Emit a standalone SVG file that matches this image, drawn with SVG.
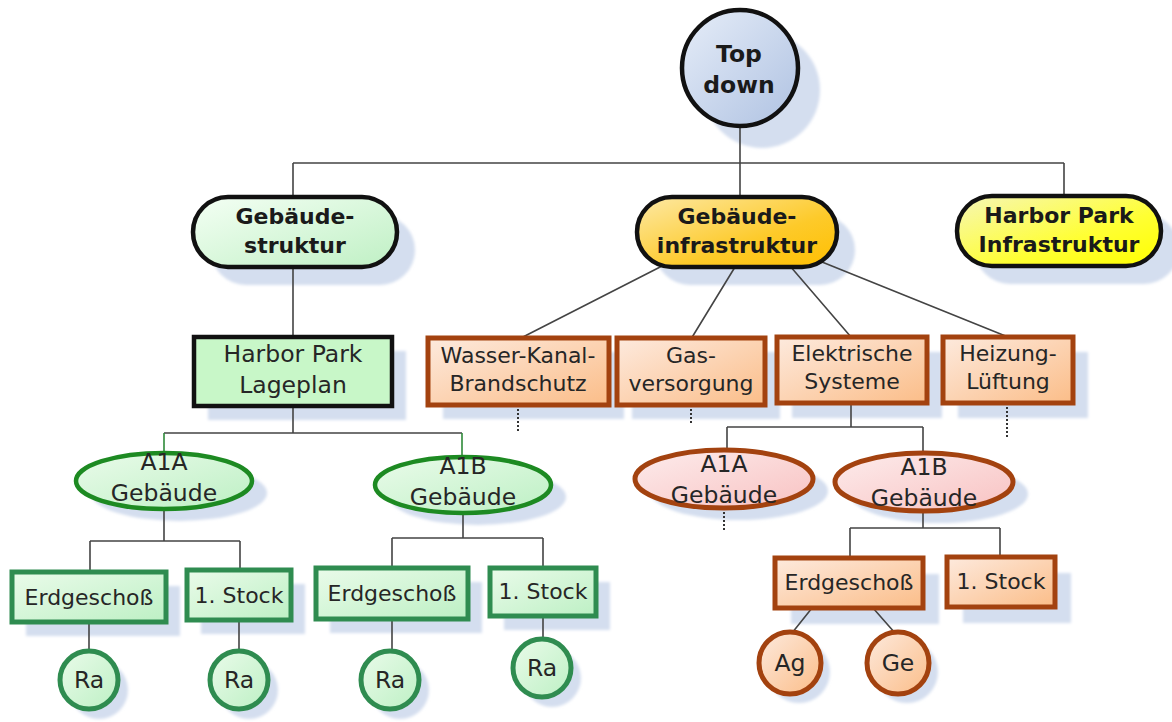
<svg xmlns="http://www.w3.org/2000/svg" width="1172" height="722" viewBox="0 0 1172 722">
<defs>
<linearGradient id="gBlue" x1="0" y1="0" x2="1" y2="1"><stop offset="0" stop-color="#e6edf8"/><stop offset="1" stop-color="#afc2e2"/></linearGradient>
<linearGradient id="gGreenTop" x1="0" y1="0" x2="1" y2="1"><stop offset="0" stop-color="#f4fff4"/><stop offset="1" stop-color="#bff0c4"/></linearGradient>
<linearGradient id="gOrangeTop" x1="0" y1="0" x2="1" y2="1"><stop offset="0" stop-color="#fde9a6"/><stop offset="0.6" stop-color="#fdca2a"/><stop offset="1" stop-color="#ffbf00"/></linearGradient>
<linearGradient id="gYellow" x1="0" y1="0" x2="1" y2="1"><stop offset="0" stop-color="#f6f6b8"/><stop offset="0.6" stop-color="#ffff33"/><stop offset="1" stop-color="#ffff00"/></linearGradient>
<linearGradient id="gOrange" x1="0" y1="0" x2="1" y2="1"><stop offset="0" stop-color="#fdeade"/><stop offset="1" stop-color="#fbbd88"/></linearGradient>
<linearGradient id="gGreen" x1="0" y1="0" x2="1" y2="1"><stop offset="0" stop-color="#eafbea"/><stop offset="1" stop-color="#bdf0c4"/></linearGradient>
<linearGradient id="gPink" x1="0" y1="0" x2="1" y2="1"><stop offset="0" stop-color="#fdecec"/><stop offset="1" stop-color="#f8c2c2"/></linearGradient>
<filter id="blur" x="-10%" y="-10%" width="120%" height="120%"><feGaussianBlur stdDeviation="1.6"/></filter>
</defs>
<style>
.sh{fill:#d4deef;filter:url(#blur)}
.ln{fill:none;stroke:#444;stroke-width:1.6}
.lg{fill:none;stroke:#2f8a3a;stroke-width:1.6}
.dot{fill:none;stroke:#333;stroke-width:2;stroke-dasharray:2,2}
.blk{stroke:#111;stroke-width:4.5}
.org{stroke:#a3420f;stroke-width:5}
.grn{stroke:#2f8c50;stroke-width:5}
.grel{stroke:#1d8a22;stroke-width:4.5}
text{font-family:"DejaVu Sans","Liberation Sans",sans-serif;text-anchor:middle;fill:#262626;font-size:22px}
.b{font-weight:bold;fill:#1a1a1a;font-size:22px}
.t{font-size:23.5px}
.e{font-size:23.5px}
</style>
<rect width="1172" height="722" fill="#fff"/>
<g id="shadows">
<circle class="sh" cx="762" cy="90" r="58"/>
<rect class="sh" x="211" y="215" width="204" height="70" rx="35"/>
<rect class="sh" x="655" y="215" width="200" height="70" rx="35"/>
<rect class="sh" x="975" y="214" width="204" height="70" rx="35"/>
<rect class="sh" x="208" y="351" width="198" height="69"/>
<rect class="sh" x="443" y="352" width="181" height="67"/>
<rect class="sh" x="632" y="352" width="148" height="67"/>
<rect class="sh" x="792" y="352" width="150" height="66"/>
<rect class="sh" x="958" y="352" width="130" height="66"/>
<ellipse class="sh" cx="179" cy="493" rx="88" ry="28"/>
<ellipse class="sh" cx="478" cy="497" rx="88" ry="28"/>
<ellipse class="sh" cx="739" cy="491" rx="89" ry="29"/>
<ellipse class="sh" cx="939" cy="494" rx="89" ry="29"/>
<rect class="sh" x="26" y="586" width="154" height="50"/>
<rect class="sh" x="201" y="584" width="104" height="50"/>
<rect class="sh" x="330" y="582" width="152" height="51"/>
<rect class="sh" x="504" y="582" width="106" height="48"/>
<rect class="sh" x="791" y="574" width="148" height="50"/>
<rect class="sh" x="963" y="573" width="108" height="50"/>
<circle class="sh" cx="99" cy="690" r="29"/>
<circle class="sh" cx="249" cy="690" r="29"/>
<circle class="sh" cx="400" cy="690" r="29"/>
<circle class="sh" cx="552" cy="678" r="29"/>
<circle class="sh" cx="799" cy="672" r="31"/>
<circle class="sh" cx="907" cy="672" r="31"/>
</g>
<g id="connectors">
<path class="ln" d="M740,126 V163 M293,163 H1064 M293,163 V197 M740,163 V197 M1064,163 V196"/>
<path class="ln" d="M293,267 V337 M293,406 V433 M164,433 H462"/>
<path class="lg" d="M164,433 V453 M462,433 V457"/>
<path class="ln" d="M164,509 V541 M90,541 H240 M90,541 V572 M240,541 V570"/>
<path class="ln" d="M463,514 V538 M392,538 H543 M392,538 V568 M543,538 V568"/>
<path class="ln" d="M89,622 V651 M239,620 V651 M392,619 V651 M543,616 V639"/>
<path class="ln" d="M666,264 L519,339 M735,267 L691,339 M790,266 L851,337 M822,262 L1008,337"/>
<path class="dot" d="M518,405 V432 M691,405 V425 M1007,403 V437 M724,508 V532"/>
<path class="ln" d="M851,403 V427 M727,427 H923 M727,427 V450 M923,427 V453"/>
<path class="ln" d="M923,512 V528 M850,528 H1000 M850,528 V558 M1000,528 V557"/>
<path class="ln" d="M812,608 L792,633 M873,608 L895,633"/>
</g>
<g id="node-top">
<circle cx="740" cy="68" r="58" fill="url(#gBlue)" class="blk"/>
<text class="b t" x="739" y="62">Top</text>
<text class="b t" x="739" y="93">down</text>
</g>
<g id="node-gebaeudestruktur">
<rect x="193" y="197" width="204" height="70" rx="35" fill="url(#gGreenTop)" class="blk"/>
<text class="b" x="295" y="224">Gebäude-</text>
<text class="b" x="295" y="253">struktur</text>
</g>
<g id="node-gebaeudeinfrastruktur">
<rect x="637" y="197" width="200" height="70" rx="35" fill="url(#gOrangeTop)" class="blk"/>
<text class="b" x="737" y="224">Gebäude-</text>
<text class="b" x="737" y="253">infrastruktur</text>
</g>
<g id="node-harborparkinfra">
<rect x="957" y="196" width="204" height="70" rx="35" fill="url(#gYellow)" class="blk"/>
<text class="b" x="1059" y="223">Harbor Park</text>
<text class="b" x="1059" y="252">Infrastruktur</text>
</g>
<g id="node-lageplan">
<rect x="194" y="337" width="198" height="69" fill="#c8f7c8" class="blk"/>
<text class="e" x="293" y="362">Harbor Park</text>
<text class="e" x="293" y="393">Lageplan</text>
</g>
<g id="node-wasser">
<rect x="428" y="338" width="181" height="67" fill="url(#gOrange)" class="org"/>
<text x="518" y="363">Wasser-Kanal-</text>
<text x="518" y="391">Brandschutz</text>
</g>
<g id="node-gas">
<rect x="617" y="338" width="148" height="67" fill="url(#gOrange)" class="org"/>
<text x="691" y="363">Gas-</text>
<text x="691" y="391">versorgung</text>
</g>
<g id="node-elektrische">
<rect x="777" y="337" width="150" height="66" fill="url(#gOrange)" class="org"/>
<text x="852" y="361">Elektrische</text>
<text x="852" y="389">Systeme</text>
</g>
<g id="node-heizung">
<rect x="943" y="337" width="130" height="66" fill="url(#gOrange)" class="org"/>
<text x="1008" y="361">Heizung-</text>
<text x="1008" y="389">Lüftung</text>
</g>
<g id="node-a1a-green">
<ellipse cx="164" cy="481" rx="88" ry="28" fill="url(#gGreen)" class="grel"/>
<text class="e" x="164" y="470">A1A</text>
<text class="e" x="164" y="501">Gebäude</text>
</g>
<g id="node-a1b-green">
<ellipse cx="463" cy="485" rx="88" ry="28" fill="url(#gGreen)" class="grel"/>
<text class="e" x="463" y="474">A1B</text>
<text class="e" x="463" y="505">Gebäude</text>
</g>
<g id="node-a1a-orange">
<ellipse cx="724" cy="479" rx="89" ry="29" fill="url(#gPink)" class="org"/>
<text class="e" x="724" y="472">A1A</text>
<text class="e" x="724" y="503">Gebäude</text>
</g>
<g id="node-a1b-orange">
<ellipse cx="924" cy="482" rx="89" ry="29" fill="url(#gPink)" class="org"/>
<text class="e" x="924" y="475">A1B</text>
<text class="e" x="924" y="506">Gebäude</text>
</g>
<g id="node-eg1">
<rect x="12" y="572" width="154" height="50" fill="url(#gGreen)" class="grn"/>
<text x="89" y="605">Erdgeschoß</text>
</g>
<g id="node-st1">
<rect x="187" y="570" width="104" height="50" fill="url(#gGreen)" class="grn"/>
<text x="239" y="603">1. Stock</text>
</g>
<g id="node-eg2">
<rect x="316" y="568" width="152" height="51" fill="url(#gGreen)" class="grn"/>
<text x="392" y="601">Erdgeschoß</text>
</g>
<g id="node-st2">
<rect x="490" y="568" width="106" height="48" fill="url(#gGreen)" class="grn"/>
<text x="543" y="599">1. Stock</text>
</g>
<g id="node-eg3">
<rect x="775" y="558" width="148" height="50" fill="url(#gOrange)" class="org"/>
<text x="849" y="590">Erdgeschoß</text>
</g>
<g id="node-st3">
<rect x="947" y="557" width="108" height="50" fill="url(#gOrange)" class="org"/>
<text x="1001" y="589">1. Stock</text>
</g>
<g id="node-ra1">
<circle cx="89" cy="680" r="29" fill="url(#gGreen)" class="grn"/>
<text class="e" x="89" y="688">Ra</text>
</g>
<g id="node-ra2">
<circle cx="239" cy="680" r="29" fill="url(#gGreen)" class="grn"/>
<text class="e" x="239" y="688">Ra</text>
</g>
<g id="node-ra3">
<circle cx="390" cy="680" r="29" fill="url(#gGreen)" class="grn"/>
<text class="e" x="390" y="688">Ra</text>
</g>
<g id="node-ra4">
<circle cx="542" cy="668" r="29" fill="url(#gGreen)" class="grn"/>
<text class="e" x="542" y="676">Ra</text>
</g>
<g id="node-ag">
<circle cx="790" cy="663" r="31" fill="url(#gOrange)" class="org"/>
<text class="e" x="790" y="671">Ag</text>
</g>
<g id="node-ge">
<circle cx="898" cy="663" r="31" fill="url(#gOrange)" class="org"/>
<text class="e" x="898" y="671">Ge</text>
</g>
</svg>
